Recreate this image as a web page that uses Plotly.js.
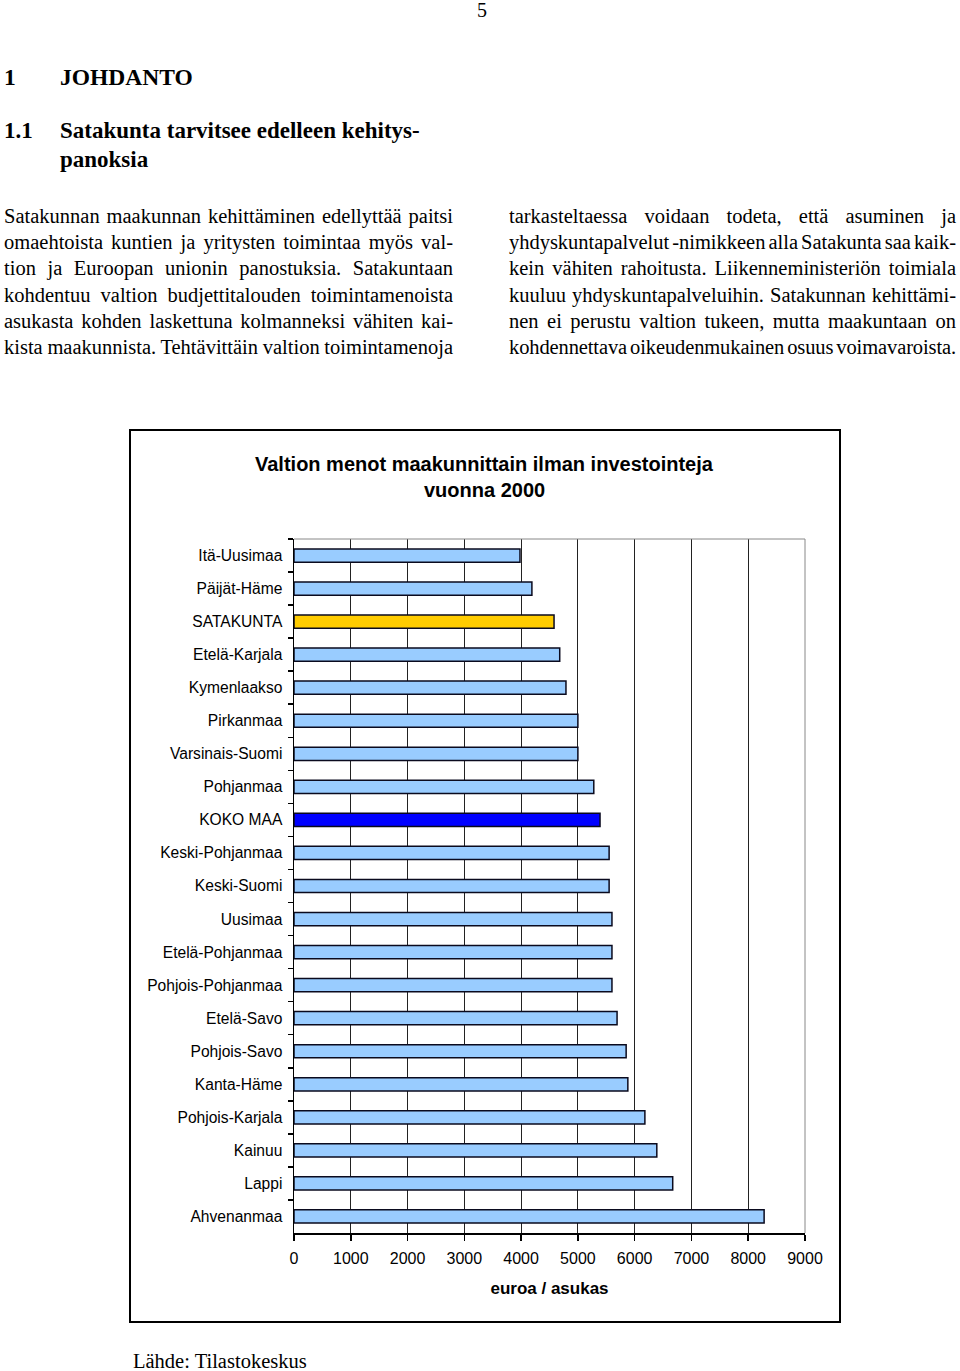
<!DOCTYPE html>
<html>
<head>
<meta charset="utf-8">
<script src="https://cdn.plot.ly/plotly-3.0.1.min.js"></script>
<style>
  html, body { margin:0; padding:0; background:#fff; }
  body { width:960px; height:1371px; position:relative; overflow:hidden; }
  .t { position:absolute; font-family:"Liberation Serif","Times New Roman",serif; color:#000; white-space:nowrap; }
  .ln { font-size:20.5px; line-height:26px; height:26px; }
  .ln span { display:inline-block; }
  .h { font-weight:bold; font-size:23.5px; line-height:28px; }
  #frame { position:absolute; left:129px; top:429px; width:708px; height:890px; border:2px solid #000; }
  #chart { width:708px; height:890px; }
</style>
</head>
<body>
<div class="t" style="left:477px; top:-3px; font-size:20px; line-height:26px;">5</div>
<div class="t h" style="left:4px; top:63px;">1</div>
<div class="t h" style="left:60px; top:63px;">JOHDANTO</div>
<div class="t h" style="left:4px; top:117px; font-size:23px;">1.1</div>
<div class="t h" style="left:60px; top:117px; font-size:23px;">Satakunta tarvitsee edelleen kehitys-</div>
<div class="t h" style="left:60px; top:146px; font-size:23px;">panoksia</div>

<div class="t" style="left:133px; top:1348px; font-size:20.5px; line-height:26px;">Lähde: Tilastokeskus</div>

<div id="frame"><div id="chart"></div></div>

<script>
// ---- document text ----
const leftLines = [
  "Satakunnan maakunnan kehittäminen edellyttää paitsi",
  "omaehtoista kuntien ja yritysten toimintaa myös val-",
  "tion ja Euroopan unionin panostuksia. Satakuntaan",
  "kohdentuu valtion budjettitalouden toimintamenoista",
  "asukasta kohden laskettuna kolmanneksi vähiten kai-",
  "kista maakunnista. Tehtävittäin  valtion toimintamenoja"
];
const rightLines = [
  "tarkasteltaessa voidaan todeta, että asuminen ja",
  "yhdyskuntapalvelut -nimikkeen alla Satakunta saa kaik-",
  "kein vähiten rahoitusta. Liikenneministeriön toimiala",
  "kuuluu yhdyskuntapalveluihin. Satakunnan kehittämi-",
  "nen ei perustu valtion tukeen, mutta maakuntaan on",
  "kohdennettava oikeudenmukainen osuus voimavaroista."
];
const lineTops = [203, 229, 255, 282, 308, 334];

function placeLines(lines, left, width) {
  lines.forEach((txt, i) => {
    const d = document.createElement('div');
    d.className = 't ln';
    d.style.left = left + 'px';
    d.style.top = lineTops[i] + 'px';
    const s = document.createElement('span');
    s.textContent = txt.replace(/\s+/g, ' ');
    d.appendChild(s);
    document.body.appendChild(d);
    const natural = s.getBoundingClientRect().width;
    const spaces = (s.textContent.match(/ /g) || []).length;
    let ws = spaces > 0 ? (width - natural) / spaces : 0;
    const minWs = -2;
    if (ws < minWs) {
      const chars = s.textContent.length;
      const rest = (width - natural) - minWs * spaces;
      s.style.letterSpacing = (rest / chars) + 'px';
      ws = minWs;
    }
    s.style.wordSpacing = ws + 'px';
  });
}
placeLines(leftLines, 4, 449);
placeLines(rightLines, 509, 447);

// ---- chart data ----
const regions = [
  "Itä-Uusimaa", "Päijät-Häme", "SATAKUNTA", "Etelä-Karjala", "Kymenlaakso",
  "Pirkanmaa", "Varsinais-Suomi", "Pohjanmaa", "KOKO MAA", "Keski-Pohjanmaa",
  "Keski-Suomi", "Uusimaa", "Etelä-Pohjanmaa", "Pohjois-Pohjanmaa", "Etelä-Savo",
  "Pohjois-Savo", "Kanta-Häme", "Pohjois-Karjala", "Kainuu", "Lappi", "Ahvenanmaa"
];
const eurosPerCapita = [
  3980, 4190, 4580, 4680, 4790,
  5000, 5000, 5280, 5390, 5550,
  5550, 5600, 5600, 5600, 5690,
  5850, 5880, 6180, 6390, 6670, 8280
];
const xTicks = [0, 1000, 2000, 3000, 4000, 5000, 6000, 7000, 8000, 9000];
const chartTitle = ["Valtion menot maakunnittain ilman investointeja", "vuonna 2000"];
const xTitle = "euroa / asukas";

const highlight = { "SATAKUNTA": "#FFCC00", "KOKO MAA": "#0000FF" };
const barColors = regions.map(r => highlight[r] || "#99CCFF");

const trace = {
  type: 'bar',
  orientation: 'h',
  y: regions,
  x: eurosPerCapita,
  width: 0.4,
  marker: { color: barColors, line: { color: '#0a0a1e', width: 1.5 } },
  hoverinfo: 'x+y'
};

const font = 'Liberation Sans, Arial, sans-serif';
const layout = {
  width: 708, height: 890,
  margin: { l: 163, r: 34, t: 108, b: 88 },
  paper_bgcolor: '#fff', plot_bgcolor: '#fff',
  showlegend: false,
  font: { family: font, size: 15, color: '#000' },
  xaxis: {
    range: [0, 9000],
    tickvals: xTicks,
    ticktext: xTicks.map(String),
    showgrid: true, gridcolor: '#222', gridwidth: 1,
    showline: true, linecolor: '#000', linewidth: 1.5,
    ticks: 'outside', ticklen: 6, tickcolor: '#000', tickwidth: 1.5,
    tickfont: { family: font, size: 16, color: '#000' },
    ticklabelstandoff: 4,
    zeroline: false,
    fixedrange: true,
    title: { text: xTitle, font: { family: font, size: 17, color: '#000', weight: 'bold' }, standoff: 16 }
  },
  yaxis: {
    type: 'category',
    autorange: 'reversed',
    tickson: 'boundaries',
    showgrid: false,
    showline: true, linecolor: '#000', linewidth: 1.5,
    ticks: 'outside', ticklen: 5, tickcolor: '#000', tickwidth: 1.5,
    tickfont: { family: font, size: 15.6, color: '#000' },
    ticklabelstandoff: 7,
    fixedrange: true
  },
  shapes: [
    { type: 'line', xref: 'paper', yref: 'paper', x0: 0, x1: 1, y0: 1, y1: 1, line: { color: '#888', width: 1 } },
    { type: 'line', xref: 'paper', yref: 'paper', x0: 1, x1: 1, y0: 0, y1: 1, line: { color: '#888', width: 1 } }
  ],
  annotations: [
    { text: '<b>' + chartTitle[0] + '</b>', xref: 'paper', yref: 'paper', x: 0.373, y: 1.108, xanchor: 'center', yanchor: 'middle', showarrow: false, font: { family: font, size: 20, color: '#000' } },
    { text: '<b>' + chartTitle[1] + '</b>', xref: 'paper', yref: 'paper', x: 0.373, y: 1.0705, xanchor: 'center', yanchor: 'middle', showarrow: false, font: { family: font, size: 20, color: '#000' } }
  ]
};

Plotly.newPlot('chart', [trace], layout, { displayModeBar: false, staticPlot: true });
</script>
</body>
</html>
